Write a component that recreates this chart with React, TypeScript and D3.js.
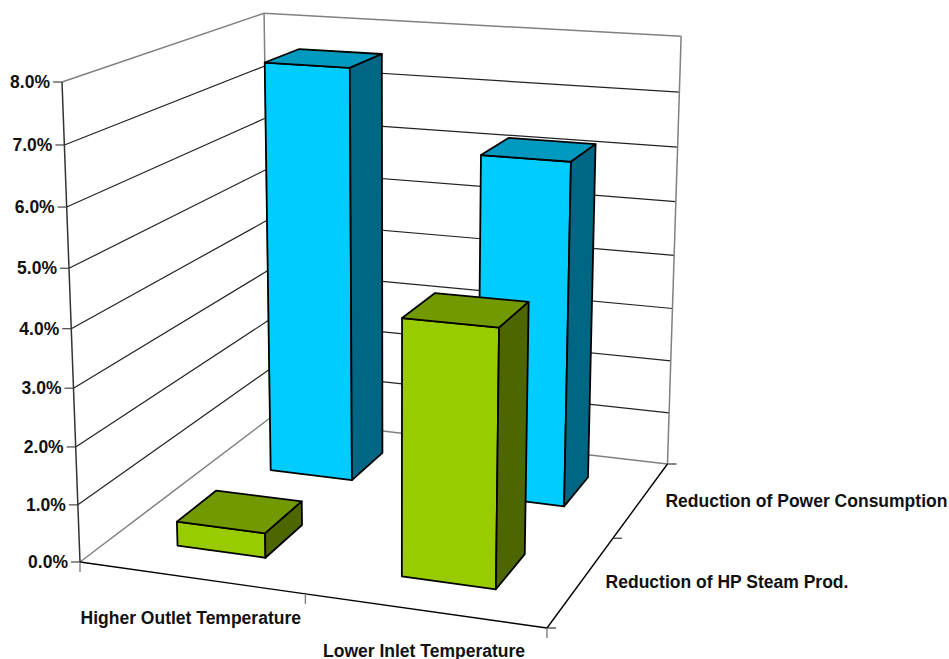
import React from "react";
import * as d3 from "d3";

// Chart values (percent)
const processChanges = ["Higher Outlet Temperature", "Lower Inlet Temperature"];
const reductionKinds = ["Reduction of HP Steam Prod.", "Reduction of Power Consumption"];
const hpSteamValues = [0.43, 4.36];
const powerValues = [7.57, 6.2];
const percentTicks = [0, 1, 2, 3, 4, 5, 6, 7, 8];

const WIDTH = 949;
const HEIGHT = 659;

// Perspective box: screen anchors of the corners and the homogeneous weights of each axis
type Pt = [number, number];
const ORIGIN: Pt = [80, 562];
const X_END: Pt = [547, 628];
const Y_END: Pt = [62, 82];
const Z_END: Pt = [270, 418];
const W_X = -0.0672;
const W_Y = -0.054;
const W_Z = 0.1953;

const axisVec = (end: Pt, w: number): Pt => [
  end[0] * (1 + w) - ORIGIN[0],
  end[1] * (1 + w) - ORIGIN[1],
];
const VX = axisVec(X_END, W_X);
const VY = axisVec(Y_END, W_Y);
const VZ = axisVec(Z_END, W_Z);

// Unit cube coordinates to screen
const project = (x: number, y: number, z: number): Pt => {
  const d = 1 + W_X * x + W_Y * y + W_Z * z;
  return [
    (ORIGIN[0] + VX[0] * x + VY[0] * y + VZ[0] * z) / d,
    (ORIGIN[1] + VX[1] * x + VY[1] * y + VZ[1] * z) / d,
  ];
};

const xBand = d3.scaleBand<string>().domain(processChanges).range([0, 1]).paddingInner(0.6).paddingOuter(0.3);
const zBand = d3.scaleBand<string>().domain(reductionKinds).range([0, 1]).paddingInner(0.6).paddingOuter(0.3);
const yScale = d3.scaleLinear().domain([0, 8]).range([0, 1]);
const polyPath = d3.line<Pt>().curve(d3.curveLinearClosed);

const BLUE = { front: "#00CCFF", top: "#0099BF", side: "#006684" };
const GREEN = { front: "#99CC00", top: "#739900", side: "#4D6600" };

const FONT = "'Liberation Sans', Arial, sans-serif";
const FONT_SIZE = 17.5;

function Bar({ cat, kind, value, colors }: { cat: string; kind: string; value: number; colors: typeof BLUE }) {
  const x0 = xBand(cat)!;
  const x1 = x0 + xBand.bandwidth();
  const z0 = zBand(kind)!;
  const z1 = z0 + zBand.bandwidth();
  const h = yScale(value);
  const faces: [Pt[], string][] = [
    [[project(x0, 0, z0), project(x1, 0, z0), project(x1, h, z0), project(x0, h, z0)], colors.front],
    [[project(x0, h, z0), project(x1, h, z0), project(x1, h, z1), project(x0, h, z1)], colors.top],
    [[project(x1, 0, z0), project(x1, 0, z1), project(x1, h, z1), project(x1, h, z0)], colors.side],
  ];
  return (
    <g>
      {faces.map(([pts, fill], i) => (
        <path key={i} d={polyPath(pts)!} fill={fill} stroke="#000" strokeWidth={1.8} strokeLinejoin="round" />
      ))}
    </g>
  );
}

function Seg({ a, b, color = "#000", w = 1 }: { a: Pt; b: Pt; color?: string; w?: number }) {
  return <line x1={a[0]} y1={a[1]} x2={b[0]} y2={b[1]} stroke={color} strokeWidth={w} />;
}

const GRAY = "#808080";
const DARK = "#222222";
const TICK = 9;

export default function App() {
  const xMid = (c: string) => xBand(c)! + xBand.bandwidth() / 2;
  return (
    <svg width={WIDTH} height={HEIGHT} style={{ position: "absolute", left: 0, top: 0, background: "#fff" }}>
      {/* Walls */}
      {percentTicks.map((t) => {
        const y = yScale(t);
        const edge = t === 0 || t === 8;
        const color = edge ? GRAY : DARK;
        const p = project(0, y, 0);
        return (
          <g key={t}>
            <Seg a={p} b={project(0, y, 1)} color={color} w={edge ? 1.5 : 1.2} />
            <Seg a={project(0, y, 1)} b={project(1, y, 1)} color={color} w={edge ? 1.5 : 1.2} />
            <Seg a={[p[0] - TICK, p[1]]} b={p} color="#555" w={1.3} />
            <text
              x={p[0] - TICK - 3}
              y={p[1] + 6}
              textAnchor="end"
              fontFamily={FONT}
              fontWeight="bold"
              fontSize={FONT_SIZE}
              fill="#111"
            >
              {`${t.toFixed(1)}%`}
            </text>
          </g>
        );
      })}
      <Seg a={project(0, 0, 1)} b={project(0, 1, 1)} color={GRAY} w={1.5} />
      <Seg a={project(1, 0, 1)} b={project(1, 1, 1)} color={GRAY} w={1.5} />
      <Seg a={project(0, 0, 0)} b={project(0, 1, 0)} color="#333" w={1.5} />

      {/* Floor edges and category ticks */}
      <Seg a={project(0, 0, 0)} b={project(1, 0, 0)} w={1.4} />
      <Seg a={project(1, 0, 0)} b={project(1, 0, 1)} w={1.4} />
      {[0, 0.5, 1].map((x) => {
        const p = project(x, 0, 0);
        return <Seg key={x} a={p} b={[p[0], p[1] + TICK + 1]} color={GRAY} w={1.4} />;
      })}
      {[0, 0.5, 1].map((z) => {
        const p = project(1, 0, z);
        return <Seg key={z} a={p} b={[p[0] + TICK, p[1]]} color={DARK} w={1.1} />;
      })}

      {/* Bars, far row first */}
      {processChanges.map((c, i) => (
        <Bar key={c} cat={c} kind={reductionKinds[1]} value={powerValues[i]} colors={BLUE} />
      ))}
      {processChanges.map((c, i) => (
        <Bar key={c} cat={c} kind={reductionKinds[0]} value={hpSteamValues[i]} colors={GREEN} />
      ))}

      {/* Category labels */}
      <g fontFamily={FONT} fontWeight="bold" fontSize={FONT_SIZE} fill="#111">
        {processChanges.map((c) => {
          const p = project(xMid(c), 0, 0);
          return (
            <text key={c} x={p[0]} y={p[1] + 46} textAnchor="middle">
              {c}
            </text>
          );
        })}
        {reductionKinds.map((k) => {
          const p = project(1, 0, zBand(k)! + zBand.bandwidth() / 2);
          return (
            <text key={k} x={p[0] + 24} y={p[1] + 7.5} textAnchor="start">
              {k}
            </text>
          );
        })}
      </g>
    </svg>
  );
}
